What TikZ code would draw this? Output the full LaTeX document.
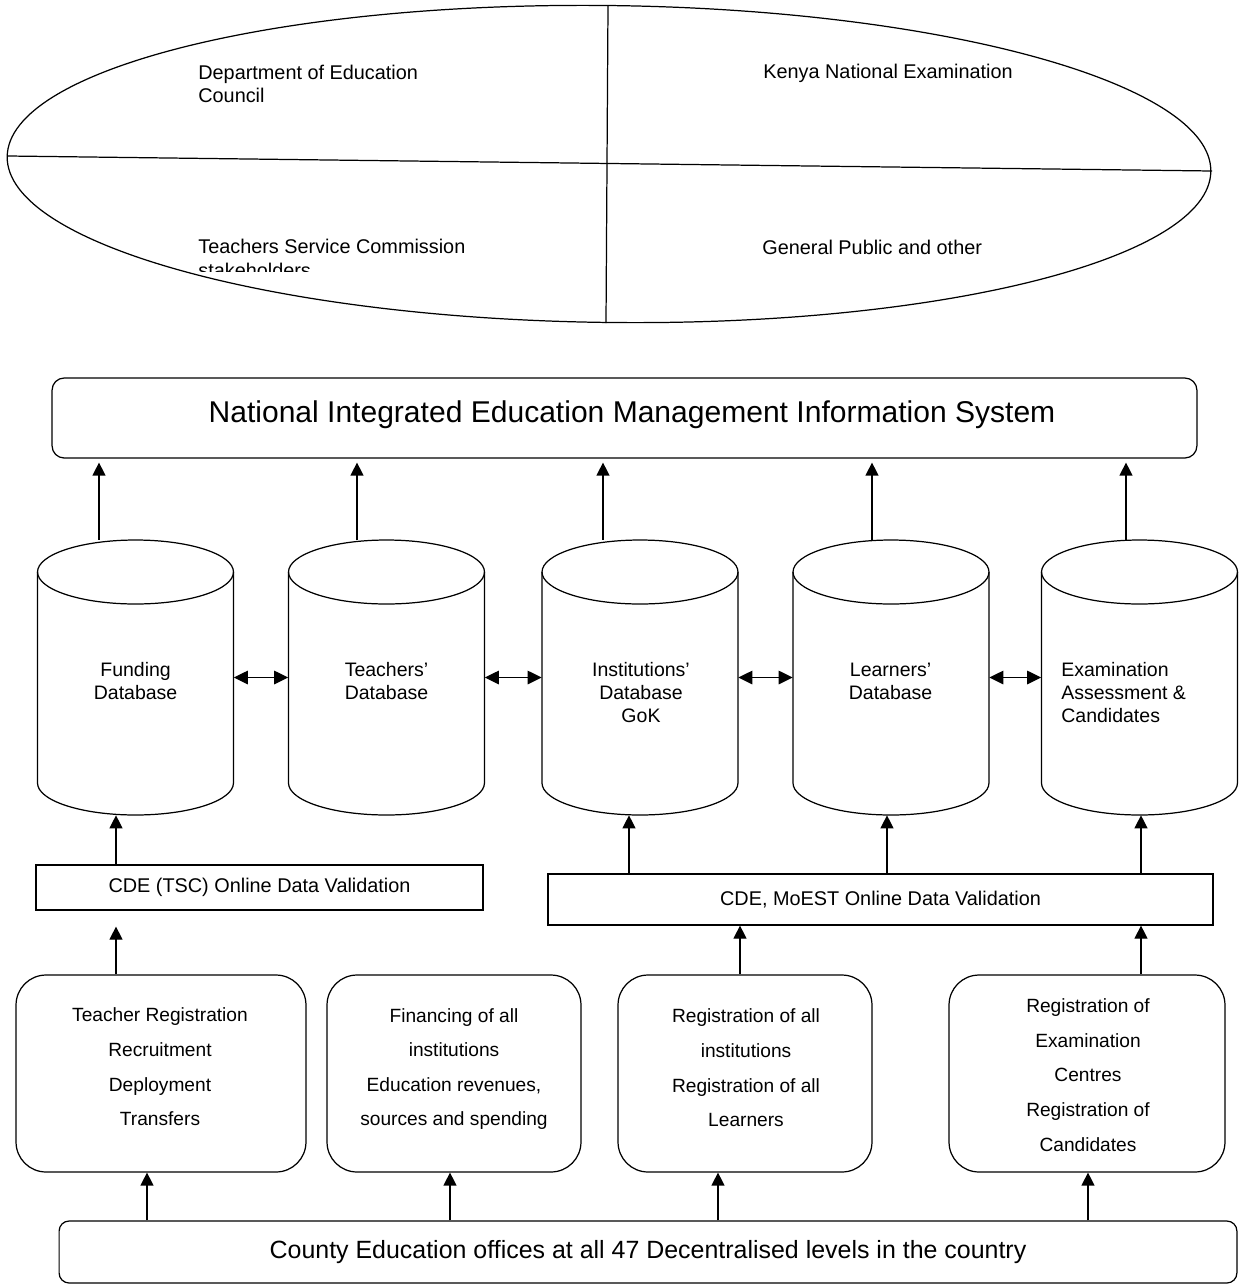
\documentclass[tikz,border=0pt]{standalone}
\usepackage{fontspec}
\setmainfont{Liberation Sans}
\usetikzlibrary{arrows.meta}
\tikzset{
  ln/.style={draw=black, line width=0.7pt},
  arr/.style={ln, -{Triangle[length=0.26cm,width=0.26cm]}},
  darr/.style={ln, {Triangle[length=0.28cm,width=0.27cm]}-{Triangle[length=0.28cm,width=0.27cm]}},
  sqbox/.style={ln, rectangle, inner sep=0pt, font=\fontsize{11.3}{13}\selectfont},
  rndbox/.style={ln, rectangle, rounded corners=0.6cm, inner sep=0pt},
  txt/.style={inner sep=0pt, font=\fontsize{11.3}{13.1}\selectfont},
  ctxt/.style={inner sep=0pt, align=center, font=\fontsize{11.1}{13.1}\selectfont},
  btxt/.style={inner sep=0pt, align=center, font=\fontsize{10.9}{19.7}\selectfont},
}
\newcommand\dbcyl[2]{%
  \draw[ln] (#2-98,-572) -- (#2-98,-783) arc[start angle=180,end angle=360,x radius=1.96cm,y radius=0.64cm] -- (#2+98,-572);
  \draw[ln] (#2,-572) ellipse[x radius=1.96cm,y radius=0.64cm];
  \node[inner sep=0pt, minimum width=3.92cm, minimum height=5.5cm] (#1) at (#2,-677.5) {};
}
\begin{document}
\begin{tikzpicture}[x=0.02cm,y=0.02cm]
\useasboundingbox (0,0) rectangle (1240,-1285);

% ---- stakeholder ellipse ----
\draw[ln, rotate around={-0.7:(609,-164)}] (609,-164) ellipse[x radius=12.04cm, y radius=3.17cm];
\coordinate (eL) at (8,-156);
\coordinate (eR) at (1212,-171);
\coordinate (eT) at (608,-6);
\coordinate (eB) at (606,-323);
\draw[ln] (eL) -- (eR);
\draw[ln] (eT) -- (eB);
\node[txt, anchor=west, align=left] (dept) at (198,-83.5) {Department of Education\\Council};
\node[txt, anchor=west] (knec) at (763,-73) {Kenya National Examination};
\node[txt, anchor=west] (gen) at (762,-247) {General Public and other};
\begin{scope}
  \clip (150,-200) rectangle (600,-271);
  \node[txt, anchor=west, align=left] (tscq) at (198,-258.4) {Teachers Service Commission\\stakeholders};
\end{scope}

% ---- NIEMIS ----
\node[ln, rectangle, rounded corners=0.24cm, inner sep=0pt, minimum width=22.9cm, minimum height=1.6cm] (niemis) at (624.5,-418) {};
\node[inner sep=0pt, font=\fontsize{17.1}{20}\selectfont] (niemist) at (632,-415) {National Integrated Education Management Information System};

% ---- databases ----
\dbcyl{fund}{135.5}
\dbcyl{teach}{386.5}
\dbcyl{inst}{640}
\dbcyl{learn}{891}
\dbcyl{exam}{1139.5}
\node[ctxt] (fundt) at (135.6,-681.4) {Funding\\Database};
\node[ctxt] (teacht) at (386.5,-681.4) {Teachers’\\Database};
\node[ctxt] (instt) at (641,-692.4) {Institutions’\\Database\\GoK};
\node[ctxt] (learnt) at (890.6,-681.4) {Learners’\\Database};
\node[txt, anchor=west, align=left, font=\fontsize{11.1}{13.1}\selectfont] (examt) at (1061,-692.4) {Examination\\Assessment \&\\Candidates};

\draw[darr] (fund.east) -- (teach.west);
\draw[darr] (teach.east) -- (inst.west);
\draw[darr] (inst.east) -- (learn.west);
\draw[darr] (learn.east) -- (exam.west);

% arrow columns
\coordinate (a1) at (99,0);
\coordinate (a2) at (357,0);
\coordinate (a3) at (603,0);
\coordinate (a4) at (872,0);
\coordinate (a5) at (1126,0);
\draw[arr, shorten >=0.08cm] (a1 |- fund.north) -- (a1 |- niemis.south);
\draw[arr, shorten >=0.08cm] (a2 |- teach.north) -- (a2 |- niemis.south);
\draw[arr, shorten >=0.08cm] (a3 |- inst.north) -- (a3 |- niemis.south);
\draw[arr, shorten >=0.08cm] (a4 |- learn.north) -- (a4 |- niemis.south);
\draw[arr, shorten >=0.08cm] (a5 |- exam.north) -- (a5 |- niemis.south);

% ---- validation boxes ----
\node[sqbox, minimum width=8.94cm, minimum height=0.9cm] (tsc) at (259.5,-887.5) {CDE (TSC) Online Data Validation};
\node[sqbox, minimum width=13.3cm, minimum height=1.02cm] (moest) at (880.5,-899.5) {CDE, MoEST Online Data Validation};

\coordinate (b1) at (116,0);
\coordinate (b3) at (629,0);
\coordinate (b4) at (887,0);
\coordinate (b5) at (1141,0);
\draw[arr] (b1 |- tsc.north) -- (b1 |- fund.south);
\draw[arr] (b3 |- moest.north) -- (b3 |- inst.south);
\draw[arr] (b4 |- moest.north) -- (b4 |- learn.south);
\draw[arr] (b5 |- moest.north) -- (b5 |- exam.south);

% ---- registration boxes ----
\node[rndbox, minimum width=5.8cm, minimum height=3.94cm] (treg) at (161,-1073.5) {};
\node[rndbox, minimum width=5.08cm, minimum height=3.94cm] (fin) at (454,-1073.5) {};
\node[rndbox, minimum width=5.08cm, minimum height=3.94cm] (ireg) at (745,-1073.5) {};
\node[rndbox, minimum width=5.52cm, minimum height=3.94cm] (ereg) at (1087,-1073.5) {};
\node[btxt] (tregt) at (160,-1067) {Teacher Registration\\Recruitment\\Deployment\\Transfers};
\node[btxt] (fint) at (454,-1069) {Financing of all\\institutions\\Education revenues,\\sources and spending};
\node[btxt] (iregt) at (746,-1068) {Registration of all\\institutions\\Registration of all\\Learners};
\node[btxt] (eregt) at (1088,-1075) {Registration of\\Examination\\Centres\\Registration of\\Candidates};

\coordinate (c3) at (740,0);
\coordinate (c5) at (1141,0);
\draw[arr, shorten >=0.32cm] (b1 |- treg.north) -- (b1 |- tsc.south);
\draw[arr] (c3 |- ireg.north) -- (c3 |- moest.south);
\draw[arr] (c5 |- ereg.north) -- (c5 |- moest.south);

% ---- county box ----
\node[ln, rectangle, rounded corners=0.2cm, inner sep=0pt, minimum width=23.56cm, minimum height=1.24cm, font=\fontsize{14.2}{17}\selectfont] (county) at (648,-1252) {County Education offices at all 47 Decentralised levels in the country};

\coordinate (d1) at (147,0);
\coordinate (d2) at (450,0);
\coordinate (d3) at (718,0);
\coordinate (d4) at (1088,0);
\draw[arr] (d1 |- county.north) -- (d1 |- treg.south);
\draw[arr] (d2 |- county.north) -- (d2 |- fin.south);
\draw[arr] (d3 |- county.north) -- (d3 |- ireg.south);
\draw[arr] (d4 |- county.north) -- (d4 |- ereg.south);
\end{tikzpicture}
\end{document}
